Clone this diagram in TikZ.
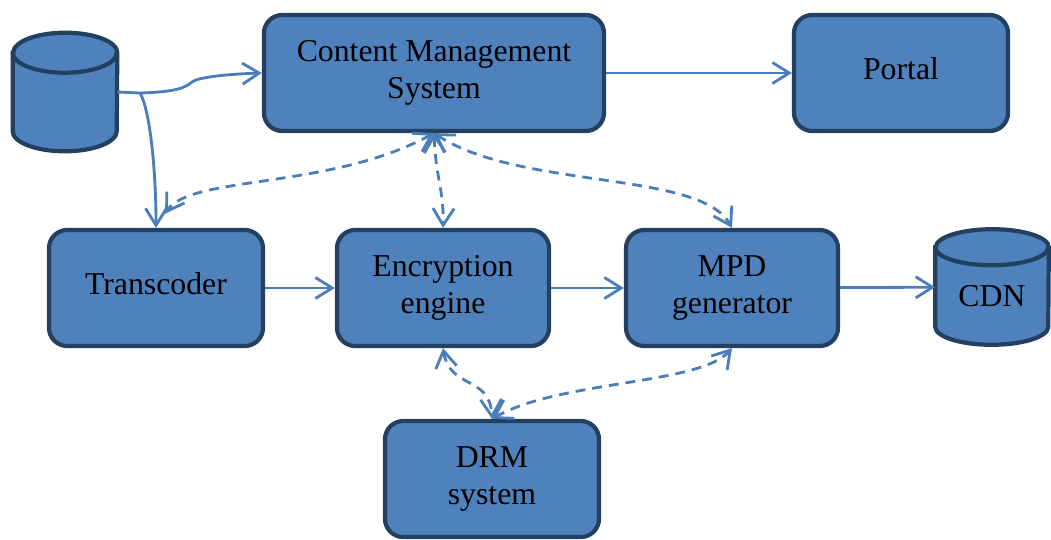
\documentclass[tikz,border=0pt]{standalone}
\usepackage{fontspec}
\setmainfont{Liberation Serif}
\usetikzlibrary{arrows.meta}
\definecolor{boxfill}{RGB}{79,129,189}
\definecolor{boxline}{RGB}{36,64,96}
\definecolor{linkcol}{RGB}{74,126,187}

\begin{document}
\begin{tikzpicture}[x=0.025cm,y=-0.025cm,>={Straight Barb[length=12pt,width=15pt]}]

    \tikzstyle{block} = [draw=boxline, fill=boxfill, line width=3pt, rounded corners=13pt, minimum height=2.9cm, align=center, font=\fontsize{22.6}{26}\selectfont];
    \tikzstyle{store} = [inner sep=0pt, font=\fontsize{22.6}{26}\selectfont];
    \tikzstyle{storeline} = [draw=boxline, fill=boxfill, line width=3pt];
    \tikzstyle{link} = [draw=linkcol, line width=2pt, ->];
    \tikzstyle{dlink} = [link, <->, dash pattern=on 7pt off 5pt];

    \useasboundingbox (0,0) rectangle (1051,539);

    \node[block, minimum width=8.5cm] (cms) at (434,73) {Content Management\\System};
    \node[block, minimum width=5.35cm, text depth=7pt] (portal) at (901,73) {Portal};
    \node[block, minimum width=5.35cm, text depth=7pt] (trans) at (156,288) {Transcoder};
    \node[block, minimum width=5.3cm] (enc) at (443,288) {Encryption\\engine};
    \node[block, minimum width=5.3cm] (mpd) at (732,288) {MPD\\generator};
    \node[block, minimum width=5.35cm] (drm) at (492,479) {DRM\\system};
    \node[store, minimum width=2.6cm, minimum height=2.95cm] (db) at (65,92) {};
    \node[store, minimum width=2.825cm, minimum height=2.875cm] (cdn) at (992,287) {};

    % cylinders
    \draw[storeline] ([yshift=-0.5cm]db.north west) -- ([yshift=0.5cm]db.south west)
        arc[start angle=180, end angle=360, x radius=1.3cm, y radius=0.5cm]
        -- ([yshift=-0.5cm]db.north east)
        arc[start angle=0, end angle=180, x radius=1.3cm, y radius=0.5cm] -- cycle;
    \draw[storeline, fill=none] ([yshift=-0.5cm]db.north west)
        arc[start angle=180, end angle=360, x radius=1.3cm, y radius=0.5cm];
    \draw[storeline] ([yshift=-0.45cm]cdn.north west) -- ([yshift=0.45cm]cdn.south west)
        arc[start angle=180, end angle=360, x radius=1.4125cm, y radius=0.45cm]
        -- ([yshift=-0.45cm]cdn.north east)
        arc[start angle=0, end angle=180, x radius=1.4125cm, y radius=0.45cm] -- cycle;
    \draw[storeline, fill=none] ([yshift=-0.45cm]cdn.north west)
        arc[start angle=180, end angle=360, x radius=1.4125cm, y radius=0.45cm];
    \node[store, text height=28pt, text depth=0pt] (cdntext) at (cdn) {CDN};
    \coordinate (split) at (140,93);

    % solid flow
    \draw[link] (db.east) -- (split) .. controls (175,92) and (185,88) .. (192,82)
        .. controls (198,77) and (230,74) .. (cms.west);
    \draw[link] (split) .. controls (150,110) and (156,170) .. (trans.north);
    \path[link]
        (cms) edge (portal)
        (trans) edge (enc)
        (enc) edge (mpd)
        (mpd) edge (cdn);

    % key exchange
    \draw[dlink, shorten >=12pt] (cms.south) .. controls (330,190) and (190,175) .. (trans.north);
    \draw[dlink] (cms.south) .. controls (436,180) and (444,190) .. (enc.north);
    \draw[dlink] (cms.south) .. controls (520,190) and (700,170) .. (mpd.north);
    \draw[dlink] (enc.south) .. controls (450,390) and (490,375) .. (drm.north);
    \draw[dlink] (drm.north) .. controls (560,380) and (700,385) .. (mpd.south);

\end{tikzpicture}
\end{document}
